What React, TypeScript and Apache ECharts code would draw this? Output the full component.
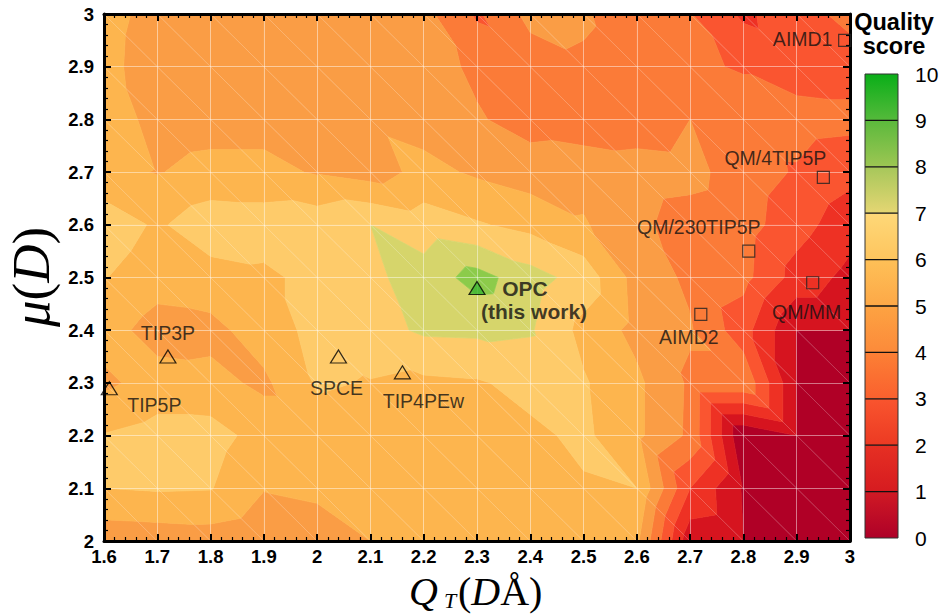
import React, { useEffect, useRef } from "react";
import * as echarts from "echarts";

// ---------- data ----------
const qtValues = [1.6, 1.7, 1.8, 1.9, 2.0, 2.1, 2.2, 2.3, 2.4, 2.5, 2.6, 2.7, 2.8, 2.9, 3.0];
const muValues = [2.0, 2.1, 2.2, 2.3, 2.4, 2.5, 2.6, 2.7, 2.8, 2.9, 3.0];

// quality score on the grid, one array per mu row (values along qtValues)
const scoreMu30 = [6.4, 5.6, 5.4, 5.4, 5.4, 5.3, 5.3, 3.85, 5.3, 5.15, 4.2, 4.05, 2.8, 3.6, 4.3];
const scoreMu29 = [6.35, 5.4, 5.4, 5.3, 5.3, 5.3, 5.45, 4.8, 4.45, 4.85, 4.5, 4.13, 3.93, 3.5, 3.5];
const scoreMu28 = [6.85, 5.5, 5.6, 5.6, 5.5, 5.85, 5.58, 5.1, 4.6, 4.4, 4.5, 5.0, 4.4, 4.41, 4.3];
const scoreMu27 = [6.3, 5.95, 6.3, 6.3, 5.9, 5.55, 6.3, 5.85, 5.5, 5.6, 5.4, 5.3, 4.5, 3.9, 3.3];
const scoreMu26 = [7.6, 6.85, 7.6, 7.5, 7.6, 8.0, 7.5, 7.1, 6.7, 6.1, 5.2, 4.6, 4.4, 3.4, 2.4];
const scoreMu25 = [7.05, 6.4, 6.6, 6.8, 7.3, 7.8, 8.4, 9.4, 8.4, 7.6, 5.6, 4.8, 4.3, 2.6, 1.7];
const scoreMu24 = [6.4, 5.6, 5.7, 6.5, 7.3, 7.6, 8.15, 8.2, 8.1, 6.7, 5.7, 5.1, 3.4, 1.0, 1.0];
const scoreMu23 = [5.8, 6.4, 6.3, 5.8, 7.1, 6.95, 6.8, 6.9, 7.3, 7.1, 6.2, 4.84, 4.84, 1.0, 0.0];
const scoreMu22 = [7.05, 7.4, 7.4, 6.6, 6.6, 6.5, 6.5, 6.6, 6.8, 7.2, 6.2, 4.8, 0.04, 1.0, 0.0];
const scoreMu21 = [7.0, 7.1, 7.05, 6.05, 6.2, 6.3, 6.3, 6.4, 6.5, 6.9, 7.0, 3.0, 0.9, 0.0, 0.0];
const scoreMu20 = [5.33, 5.4, 5.5, 5.2, 5.5, 6.0, 6.3, 6.4, 6.4, 6.4, 6.2, 1.3, 1.0, 0.0, 0.0];

const contourLevels = [0, 1, 2, 3, 4, 5, 6, 7, 8, 9, 10];

const triangleNames = ["TIP3P", "TIP5P", "SPCE", "TIP4PEw", "OPC"];
const triangleQT = [1.72, 1.61, 2.04, 2.16, 2.3];
const triangleMu = [2.35, 2.29, 2.35, 2.32, 2.48];

const squareNames = ["AIMD1", "QM/4TIP5P", "QM/230TIP5P", "QM/MM", "AIMD2"];
const squareQT = [2.99, 2.95, 2.81, 2.93, 2.72];
const squareMu = [2.95, 2.69, 2.55, 2.49, 2.43];

// ---------- styles ----------
const FILL = ["#B00026", "#D6141F", "#EE3124", "#FA5530", "#FB7B38", "#FA9D45", "#FDB54E", "#FECB6A", "#D6D56B", "#8CCB4A"];
const BAR = [
  ["#D01A24", "#AE0028"],
  ["#E63023", "#D61B20"],
  ["#F9552E", "#EC3A23"],
  ["#FC8035", "#FA602E"],
  ["#FDA342", "#FC8A3A"],
  ["#FEC057", "#FDA847"],
  ["#FED878", "#FEC55E"],
  ["#A6C75A", "#E5D673"],
  ["#5BB93C", "#9DC653"],
  ["#0AAE18", "#55BA3B"],
];
const triangleOffsets = [[0, -24], [45, 17], [-2, 31], [21, 29], [57, 12]];
const squareOffsets = [[-42, -1], [-48, -19], [-50, -24], [-6, 29], [-12, 23]];

const SANS = "'Liberation Sans', Arial, sans-serif";
const SERIF = "'Liberation Serif', 'Times New Roman', serif";

// ---------- contour construction (linear interpolation on triangles) ----------
type P3 = number[];
function clip(poly: P3[], lvl: number, above: boolean): P3[] {
  const out: P3[] = [];
  for (let i = 0; i < poly.length; i++) {
    const a = poly[i];
    const b = poly[(i + 1) % poly.length];
    const ina = above ? a[2] >= lvl : a[2] <= lvl;
    const inb = above ? b[2] >= lvl : b[2] <= lvl;
    if (ina) out.push(a);
    if (ina !== inb) {
      const t = (lvl - a[2]) / (b[2] - a[2]);
      out.push([a[0] + t * (b[0] - a[0]), a[1] + t * (b[1] - a[1]), lvl]);
    }
  }
  return out;
}
function area(p: P3[]) {
  let s = 0;
  for (let i = 0; i < p.length; i++) {
    const a = p[i], b = p[(i + 1) % p.length];
    s += a[0] * b[1] - b[0] * a[1];
  }
  return Math.abs(s / 2);
}

const scoreGrid = [scoreMu20, scoreMu21, scoreMu22, scoreMu23, scoreMu24, scoreMu25, scoreMu26, scoreMu27, scoreMu28, scoreMu29, scoreMu30];
const nBands = contourLevels.length - 1;
const polys: { band: number; pts: number[][] }[] = [];
const cells: number[][] = [];
for (let j = 0; j < muValues.length - 1; j++) {
  for (let i = 0; i < qtValues.length - 1; i++) {
    const x0 = qtValues[i], x1 = qtValues[i + 1], y0 = muValues[j], y1 = muValues[j + 1];
    const TL = [x0, y1, scoreGrid[j + 1][i]];
    const TR = [x1, y1, scoreGrid[j + 1][i + 1]];
    const BL = [x0, y0, scoreGrid[j][i]];
    const BR = [x1, y0, scoreGrid[j][i + 1]];
    cells.push([x0, y1, x1, y0]);
    for (const tri of [[TL, TR, BR], [TL, BR, BL]]) {
      for (let k = 0; k < nBands; k++) {
        let p: P3[] = tri;
        if (k > 0) p = clip(p, contourLevels[k], true);
        if (k < nBands - 1) p = clip(p, contourLevels[k + 1], false);
        if (p.length >= 3 && area(p) > 1e-8) polys.push({ band: k, pts: p.map((q) => [q[0], q[1]]) });
      }
    }
  }
}

export default function App() {
  const ref = useRef<HTMLDivElement>(null);
  useEffect(() => {
    if (!ref.current) return;
    const chart = echarts.init(ref.current, null, { renderer: "svg" });
    const fmt = (v: number) => String(Math.round(v * 10) / 10);
    const axisCommon = {
      type: "value" as const,
      interval: 0.1,
      z: 5,
      axisLine: { show: true, onZero: false, lineStyle: { color: "#000", width: 3 } },
      axisTick: { show: true, inside: true, length: 7, lineStyle: { color: "#000", width: 2 } },
      minorTick: { show: true, splitNumber: 5, length: 4, lineStyle: { color: "#000", width: 1.2 } },
    };
    const top = 74, bot = 538, bandH = (bot - top) / nBands;
    const graphics: any[] = [];
    for (let k = 0; k < nBands; k++) {
      graphics.push({
        type: "rect",
        shape: { x: 865, y: bot - (k + 1) * bandH, width: 33, height: bandH },
        style: {
          fill: {
            type: "linear", x: 0, y: 0, x2: 0, y2: 1,
            colorStops: [{ offset: 0, color: BAR[k][0] }, { offset: 1, color: BAR[k][1] }],
          },
        },
      });
    }
    for (let k = 1; k < nBands; k++) {
      graphics.push({ type: "line", shape: { x1: 865, y1: bot - k * bandH, x2: 898, y2: bot - k * bandH }, style: { stroke: "#111", lineWidth: 1.3 } });
    }
    graphics.push({ type: "rect", shape: { x: 865, y: top, width: 33, height: bot - top }, style: { fill: "none", stroke: "#333", lineWidth: 1 } });
    contourLevels.forEach((lv, k) => {
      graphics.push({ type: "text", x: 915, y: bot - k * bandH, style: { text: String(lv), font: `21px ${SANS}`, fill: "#000", align: "left", verticalAlign: "middle" } });
    });
    graphics.push({ type: "text", x: 894, y: 22, style: { text: "Quality", font: `bold 23.5px ${SANS}`, fill: "#000", align: "center", verticalAlign: "middle" } });
    graphics.push({ type: "text", x: 894, y: 46, style: { text: "score", font: `bold 23.5px ${SANS}`, fill: "#000", align: "center", verticalAlign: "middle" } });
    // axis titles
    graphics.push({
      type: "text", x: 31, y: 277, rotation: Math.PI / 2,
      style: {
        text: "{i|μ}{n|(}{i|D}{n|)}",
        align: "center", verticalAlign: "middle",
        rich: {
          i: { font: `italic 53px ${SERIF}`, fill: "#000" },
          n: { font: `53px ${SERIF}`, fill: "#000" },
        },
      },
    });
    graphics.push({ type: "text", x: 409, y: 591, style: { text: "Q", font: `italic 40px ${SERIF}`, fill: "#000", align: "left", verticalAlign: "middle" } });
    graphics.push({ type: "text", x: 444, y: 600, style: { text: "T", font: `italic 22px ${SERIF}`, fill: "#000", align: "left", verticalAlign: "middle" } });
    graphics.push({
      type: "text", x: 458, y: 591,
      style: {
        text: "{n|(}{i|D}{n|Å)}", align: "left", verticalAlign: "middle",
        rich: { i: { font: `italic 40px ${SERIF}`, fill: "#000" }, n: { font: `40px ${SERIF}`, fill: "#000" } },
      },
    });

    const labelBase = { show: true, position: "inside", formatter: "{b}", fontFamily: SANS, fontSize: 19.5, color: "#111" };
    chart.setOption({
      animation: false,
      backgroundColor: "#fff",
      grid: { left: 104, right: 92, top: 14, bottom: 74, show: false },
      xAxis: [
        {
          ...axisCommon, position: "bottom", min: 1.6, max: 3.0,
          axisLabel: { formatter: fmt, fontFamily: SANS, fontWeight: "bold", fontSize: 18.5, color: "#000", margin: 6 },
          splitLine: { show: true, lineStyle: { color: "rgba(255,255,255,0.45)", width: 1 } },
        },
        { ...axisCommon, position: "top", min: 1.6, max: 3.0, axisLabel: { show: false }, splitLine: { show: false } },
      ],
      yAxis: [
        {
          ...axisCommon, position: "left", min: 2, max: 3,
          axisLabel: { formatter: fmt, fontFamily: SANS, fontWeight: "bold", fontSize: 18.5, color: "#000", margin: 10 },
          splitLine: { show: true, lineStyle: { color: "rgba(255,255,255,0.45)", width: 1 } },
        },
        { ...axisCommon, position: "right", min: 2, max: 3, axisLabel: { show: false }, splitLine: { show: false } },
      ],
      graphic: graphics,
      series: [
        {
          type: "custom",
          name: "contour",
          coordinateSystem: "cartesian2d",
          xAxisIndex: 0, yAxisIndex: 0,
          z: 1,
          clip: true,
          silent: true,
          data: polys.map((_, i) => [i]),
          renderItem: (params: any, api: any) => {
            const p = polys[params.dataIndex];
            return {
              type: "polygon",
              shape: { points: p.pts.map((q) => api.coord(q)) },
              style: { fill: FILL[p.band], stroke: FILL[p.band], lineWidth: 0.7 },
            };
          },
        },
        {
          type: "custom",
          name: "mesh",
          coordinateSystem: "cartesian2d",
          xAxisIndex: 0, yAxisIndex: 0,
          z: 2,
          clip: true,
          silent: true,
          data: cells.map((_, i) => [i]),
          renderItem: (params: any, api: any) => {
            const c = cells[params.dataIndex];
            const a = api.coord([c[0], c[1]]);
            const b = api.coord([c[2], c[3]]);
            return { type: "line", shape: { x1: a[0], y1: a[1], x2: b[0], y2: b[1] }, style: { stroke: "rgba(255,255,255,0.28)", lineWidth: 0.8 } };
          },
        },
        {
          type: "scatter",
          name: "classical",
          z: 10,
          symbol: "triangle",
          symbolSize: [16, 13],
          itemStyle: { color: "rgba(0,0,0,0)", borderColor: "#000", borderWidth: 1.2 },
          label: labelBase,
          data: triangleNames.map((n, i) => {
            const item: any = { name: n, value: [triangleQT[i], triangleMu[i]], label: { offset: triangleOffsets[i] } };
            if (n === "OPC") {
              item.itemStyle = { color: "#3CB432", borderColor: "#000", borderWidth: 1.2 };
              item.label = {
                offset: triangleOffsets[i],
                formatter: "{a|OPC}\n{b|(this work)}",
                rich: {
                  a: { fontFamily: SANS, fontWeight: "bold", fontSize: 21, color: "#111", padding: [0, 18, 0, 0], lineHeight: 23 },
                  b: { fontFamily: SANS, fontWeight: "bold", fontSize: 21, color: "#111", lineHeight: 23 },
                },
              };
            }
            return item;
          }),
        },
        {
          type: "scatter",
          name: "quantum",
          z: 10,
          symbol: "rect",
          symbolSize: 12,
          itemStyle: { color: "rgba(0,0,0,0)", borderColor: "#222", borderWidth: 1.2 },
          label: labelBase,
          data: squareNames.map((n, i) => ({ name: n, value: [squareQT[i], squareMu[i]], label: { offset: squareOffsets[i] } })),
        },
      ],
    });
    return () => chart.dispose();
  }, []);
  return <div ref={ref} style={{ width: 942, height: 615, position: "absolute", left: 0, top: 0 }} />;
}
